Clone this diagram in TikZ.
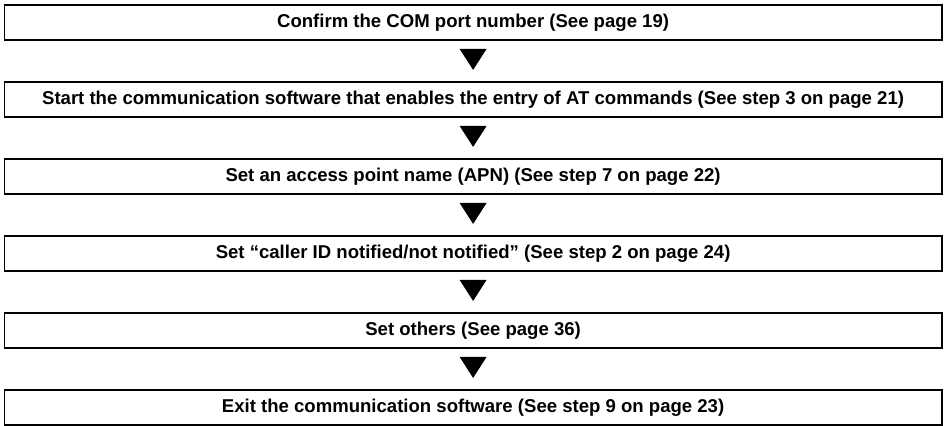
\documentclass[tikz,border=0pt]{standalone}
\usepackage{fontspec}
\setmainfont{Liberation Sans}
\usetikzlibrary{calc}

\begin{document}
\begin{tikzpicture}[
    x=0.025cm, y=-0.025cm,
    stepbox/.style={rectangle, draw, line width=1.3pt, minimum width=23.42cm,
        minimum height=0.875cm, inner sep=0pt,
        font=\fontsize{13.2}{15}\selectfont\bfseries}
]

\useasboundingbox (0,0) rectangle (944,426);

% ================= etapes =================

\node[stepbox] (s1) at (473.1,22.5)  {Confirm the COM port number (See page 19)};
\node[stepbox] (s2) at (473.1,99.5)  {Start the communication software that enables the entry of AT commands (See step 3 on page 21)};
\node[stepbox] (s3) at (473.1,176.5) {Set an access point name (APN) (See step 7 on page 22)};
\node[stepbox] (s4) at (473.1,253.5) {Set ``caller ID notified/not notified'' (See step 2 on page 24)};
\node[stepbox] (s5) at (473.1,330.5) {Set others (See page 36)};
\node[stepbox] (s6) at (473.1,407.5) {Exit the communication software (See step 9 on page 23)};

% ================= fleches =================

\foreach \a in {s1,s2,s3,s4,s5}
    \fill ($(\a.south)+(-13.5,8)$) -- ($(\a.south)+(13.5,8)$) -- ($(\a.south)+(0,29)$) -- cycle;

\end{tikzpicture}
\end{document}
